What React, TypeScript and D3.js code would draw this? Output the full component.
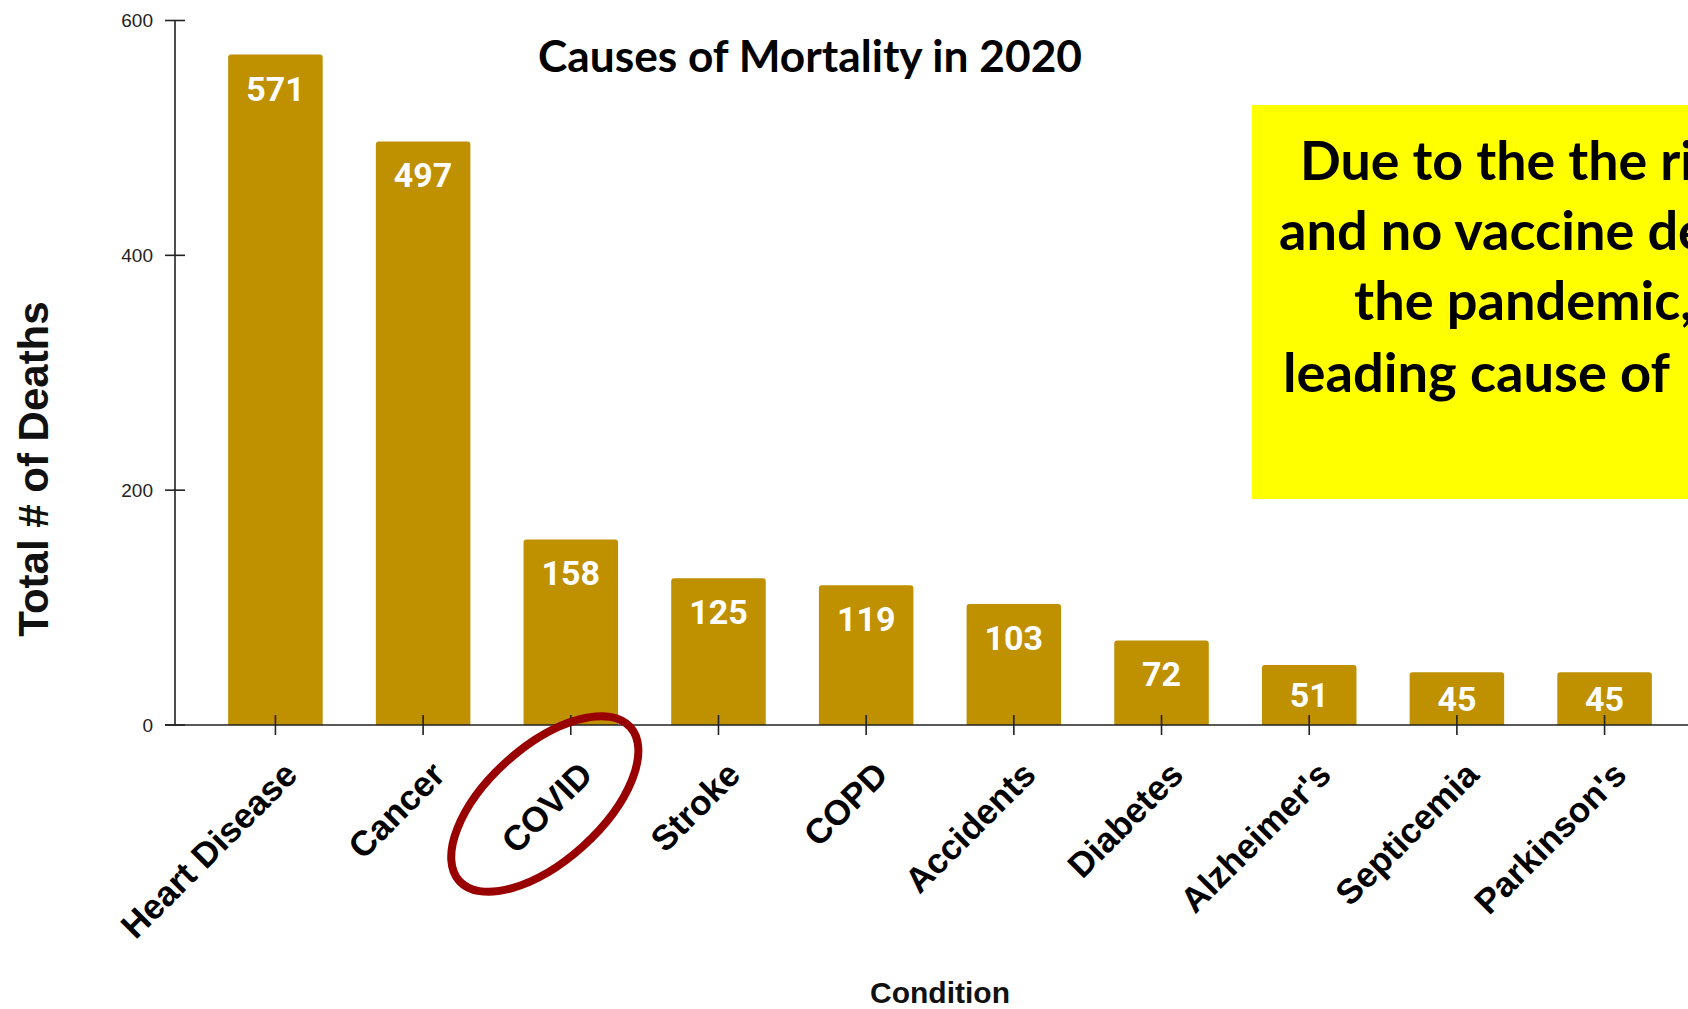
import React from "react";
import * as d3 from "d3";

const categories = ["Heart Disease", "Cancer", "COVID", "Stroke", "COPD", "Accidents", "Diabetes", "Alzheimer's", "Septicemia", "Parkinson's"];
const deaths = [571, 497, 158, 125, 119, 103, 72, 51, 45, 45];
const yTicks = [0, 200, 400, 600];
const chartTitle = "Causes of Mortality in 2020";
const yTitle = "Total # of Deaths";
const xTitle = "Condition";
const noteLines = ["Due to the the ri", "and no vaccine de", "the pandemic,", "leading cause of"];
const highlighted = "COVID";

const W = 1688;
const H = 1009;
const AXIS_X = 175;
const BASE_Y = 725;
const TOP_Y = 20.5;
const BAR = "#BF9000";

// layout of the annotation lines (start x, baseline y, rendered length)
const noteLayout = [
  { x: 1300, y: 180, len: 394 },
  { x: 1279, y: 250, len: 428 },
  { x: 1354, y: 320, len: 339 },
  { x: 1283, y: 391.7, len: 387 },
];

export default function App() {
  const x = d3.scaleBand<string>().domain(categories).range([AXIS_X, 1705]).paddingInner(0.36).paddingOuter(0.36);
  const y = d3.scaleLinear().domain([0, 600]).range([BASE_Y, TOP_Y]);
  const bw = x.bandwidth();
  const covidX = (x(highlighted) as number) + bw / 2;

  return (
    <div style={{ position: "absolute", left: 0, top: 0, width: W, height: H, overflow: "hidden", background: "#fff" }}>
      <svg width={W} height={H} style={{ display: "block" }}>
        <rect x={0} y={0} width={W} height={H} fill="#fff" />
        {/* bars */}
        {categories.map((c, i) => {
          const top = y(deaths[i]);
          const h = BASE_Y - top;
          const x0 = x(c) as number;
          const cx = x0 + bw / 2;
          const labelY = top + Math.min(34, h / 2);
          return (
            <g key={c}>
              <path
                d={`M${x0},${BASE_Y} V${top + 3} Q${x0},${top} ${x0 + 3},${top} H${x0 + bw - 3} Q${x0 + bw},${top} ${x0 + bw},${top + 3} V${BASE_Y} Z`}
                fill={BAR}
              />
              <text x={cx} y={labelY} textAnchor="middle" dominantBaseline="central" fill="#fff" fontFamily="Roboto, sans-serif" fontWeight={700} fontSize={34}>
                {deaths[i]}
              </text>
            </g>
          );
        })}
        {/* y axis */}
        <line x1={AXIS_X} x2={AXIS_X} y1={TOP_Y} y2={BASE_Y} stroke="#222" strokeWidth={1.6} />
        {yTicks.map((t) => (
          <g key={t}>
            <line x1={AXIS_X - 10} x2={AXIS_X + 10} y1={y(t)} y2={y(t)} stroke="#222" strokeWidth={1.6} />
            <text x={153} y={y(t)} textAnchor="end" dominantBaseline="central" fill="#222" fontFamily="'Liberation Sans', Arial, sans-serif" fontSize={19}>
              {t}
            </text>
          </g>
        ))}
        {/* x axis */}
        <line x1={AXIS_X - 10} x2={W} y1={BASE_Y} y2={BASE_Y} stroke="#222" strokeWidth={1.6} />
        {categories.map((c) => {
          const cx = (x(c) as number) + bw / 2;
          return (
            <g key={"t" + c}>
              <line x1={cx} x2={cx} y1={BASE_Y - 10} y2={BASE_Y + 10} stroke="#222" strokeWidth={1.6} />
              <text
                transform={`translate(${cx + 15},${BASE_Y + 43}) rotate(-45)`}
                textAnchor="end"
                dominantBaseline="central"
                fill="#000"
                fontFamily="'Liberation Sans', Arial, sans-serif"
                fontWeight={700}
                fontSize={35}
              >
                {c}
              </text>
            </g>
          );
        })}
        {/* axis titles */}
        <text transform={`translate(48,469) rotate(-90)`} textAnchor="middle" fill="#111" fontFamily="'Liberation Sans', Arial, sans-serif" fontWeight={700} fontSize={42}>
          {yTitle}
        </text>
        <text x={940} y={1003} textAnchor="middle" fill="#111" fontFamily="'Liberation Sans', Arial, sans-serif" fontWeight={700} fontSize={30}>
          {xTitle}
        </text>
        {/* chart title */}
        <text x={538} y={72} textLength={544} lengthAdjust="spacingAndGlyphs" fill="#000" fontFamily="Lato, sans-serif" fontWeight={700} fontSize={44}>
          {chartTitle}
        </text>
        {/* highlight ellipse */}
        <ellipse cx={covidX - 26} cy={804} rx={115} ry={57} transform={`rotate(-42,${covidX - 26},804)`} fill="none" stroke="#990000" strokeWidth={8} />
        {/* annotation box */}
        <rect x={1252} y={105} width={W - 1252 + 20} height={394} fill="#FFFF00" />
        {noteLines.map((l, i) => (
          <text key={l} x={noteLayout[i].x} y={noteLayout[i].y} textLength={noteLayout[i].len} lengthAdjust="spacingAndGlyphs" fill="#000" fontFamily="Lato, sans-serif" fontWeight={700} fontSize={53}>
            {l}
          </text>
        ))}
      </svg>
    </div>
  );
}
